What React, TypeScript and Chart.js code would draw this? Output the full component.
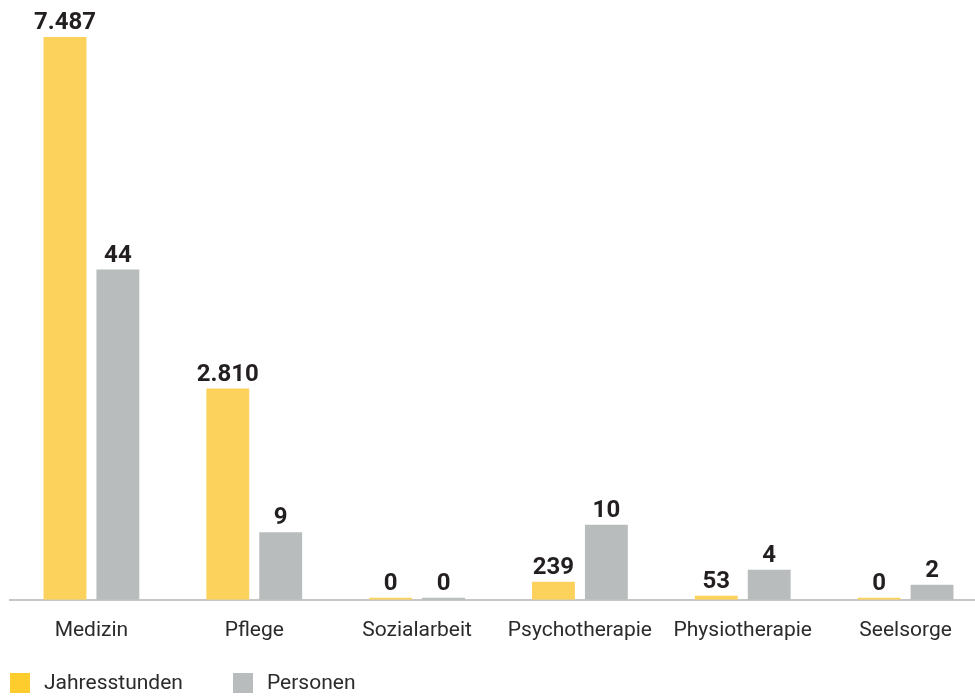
import React, { useEffect, useRef } from "react";
import { Chart, registerables } from "chart.js";

Chart.register(...registerables);

const categories = ["Medizin", "Pflege", "Sozialarbeit", "Psychotherapie", "Physiotherapie", "Seelsorge"];
const jahresstunden = [7487, 2810, 0, 239, 53, 0];
const personen = [44, 9, 0, 10, 4, 2];
const seriesNames = ["Jahresstunden", "Personen"];

const YELLOW = "#FDD25C";
const YELLOW_LEGEND = "#FFCC2E";
const GRAY = "#B9BCBC";
const TEXT = "#231F20";
const FONT = "Roboto, 'DejaVu Sans', sans-serif";

const valueLabels = {
  id: "valueLabels",
  afterDatasetsDraw(chart: any) {
    const ctx = chart.ctx;
    ctx.save();
    ctx.font = `bold 24px ${FONT}`;
    ctx.fillStyle = TEXT;
    ctx.textAlign = "center";
    ctx.textBaseline = "alphabetic";
    chart.data.datasets.forEach((ds: any, di: number) => {
      const meta = chart.getDatasetMeta(di);
      meta.data.forEach((bar: any, i: number) => {
        const v = ds.data[i];
        const top = Math.min(bar.y, bar.base);
        ctx.fillText(v.toLocaleString("de-DE"), bar.x, top - 8);
      });
    });
    ctx.restore();
  },
};

const customLegend = {
  id: "customLegend",
  afterDraw(chart: any) {
    const ctx = chart.ctx;
    const colors = [YELLOW_LEGEND, GRAY];
    const xs = [10, 233];
    const y = 683;
    ctx.save();
    ctx.font = `21px ${FONT}`;
    ctx.textBaseline = "middle";
    ctx.textAlign = "left";
    seriesNames.forEach((name, i) => {
      ctx.fillStyle = colors[i];
      ctx.fillRect(xs[i], y - 10, 20, 20);
      ctx.fillStyle = "#2b2b2b";
      ctx.fillText(name, xs[i] + 34, y + 1);
    });
    ctx.restore();
  },
};

export default function App() {
  const ref = useRef<HTMLCanvasElement | null>(null);
  useEffect(() => {
    if (!ref.current) return;
    const chart = new Chart(ref.current, {
      type: "bar",
      data: {
        labels: categories,
        datasets: [
          {
            label: seriesNames[0],
            data: jahresstunden,
            backgroundColor: YELLOW,
            yAxisID: "y",
            minBarLength: 2,
          },
          {
            label: seriesNames[1],
            data: personen,
            backgroundColor: GRAY,
            yAxisID: "y2",
            minBarLength: 2,
          },
        ],
      },
      options: {
        responsive: false,
        animation: false,
        layout: { padding: { left: 10, right: 0, top: 37, bottom: 43 } },
        datasets: { bar: { categoryPercentage: 0.65, barPercentage: 0.81 } },
        plugins: { legend: { display: false }, tooltip: { enabled: false } },
        scales: {
          x: {
            grid: { display: false },
            border: { display: true, color: "#C6C6C6", width: 2 },
            ticks: { color: "#2b2b2b", font: { family: FONT, size: 21 }, padding: 10, maxRotation: 0, autoSkip: false },
          },
          y: { display: false, min: 0, max: Math.max(...jahresstunden) },
          y2: { display: false, min: 0, max: 75 },
        },
      },
      plugins: [valueLabels, customLegend],
    });
    return () => chart.destroy();
  }, []);
  return (
    <div style={{ position: "absolute", left: 0, top: 0, width: 975, height: 696, overflow: "hidden", background: "#fff" }}>
      <canvas ref={ref} width={987} height={696} />
    </div>
  );
}
